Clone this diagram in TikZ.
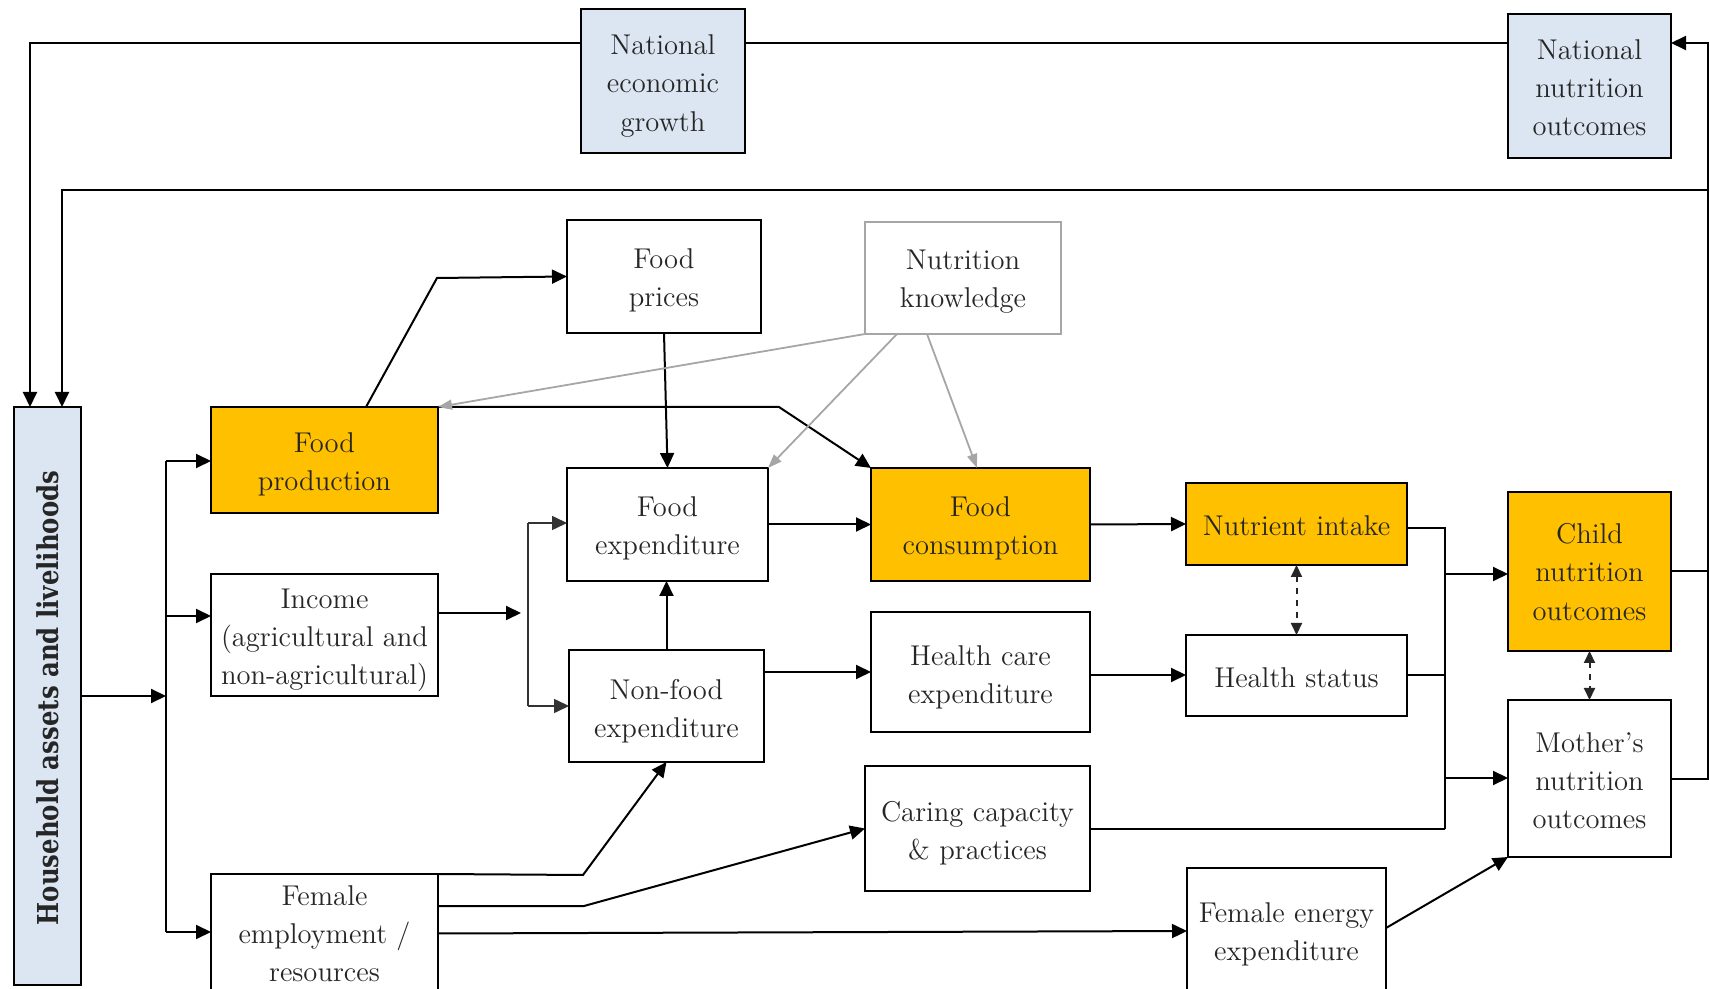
\documentclass[tikz,border=0pt]{standalone}
\usepackage{fontspec}
\newfontfamily\hhfont{DejaVu Serif}
\usetikzlibrary{arrows.meta,calc}
\definecolor{orng}{HTML}{FFC000}
\definecolor{lblue}{HTML}{DCE6F2}
\definecolor{kgrey}{HTML}{A6A6A6}
\definecolor{txt}{HTML}{262626}
\newcommand\bx[8]{%
  \node[#1, minimum width={(#4-#2)*0.5pt}, minimum height={(#5-#3)*0.5pt}] (#6) at ({(#2+#4)/2},{(#3+#5)/2}) {};
  \node[lbl] (#6t) at ({(#2+#4)/2},{(#3+#5)/2+#7}) {#8};}
\begin{document}
\begin{tikzpicture}[x=0.5pt,y=-0.5pt,
  base/.style={draw=black, line width=1.1pt, inner sep=0pt, outer sep=0pt},
  lbl/.style={inner sep=0pt, outer sep=0pt, align=center, text=txt, font=\fontsize{14.3}{19.1}\selectfont},
  wbox/.style={base, fill=white},
  obox/.style={base, fill=orng},
  bbox/.style={base, fill=lblue},
  gbox/.style={base, draw=kgrey, fill=white},
  arr/.style={line width=1pt, -{Triangle[length=7.5pt,width=7pt]}},
  ln/.style={line width=1pt},
  busln/.style={draw=black!80, line width=0.8pt},
  busarr/.style={draw=black!80, line width=0.8pt, -{Triangle[length=7.5pt,width=7pt]}},
  garr/.style={draw=kgrey, line width=0.9pt, -{Triangle[length=7pt,width=5pt]}},
  darr/.style={draw=txt, line width=1pt, dashed, {Triangle[length=6pt,width=5.5pt]}-{Triangle[length=6pt,width=5.5pt]}}
]
\useasboundingbox (0,0) rectangle (1710,989);

% nodes
\bx{bbox}{14}{407}{81}{985}{hh}{2}{\rotatebox{90}{\scalebox{1}[1.18]{\hhfont\fontsize{12.2}{15}\selectfont\bfseries Household assets and livelihoods}}}
\bx{bbox}{581}{9}{745}{153}{neg}{5}{National\\economic\\growth}
\bx{bbox}{1508}{14}{1671}{158}{nno}{2}{National\\nutrition\\outcomes}
\bx{obox}{211}{407}{438}{513}{fprod}{4.5}{Food\\production}
\bx{wbox}{567}{220}{761}{333}{fprices}{4}{Food\\prices}
\bx{gbox}{865}{222}{1061}{334}{nk}{4}{Nutrition\\knowledge}
\bx{wbox}{567}{468}{768}{581}{fexp}{4}{Food\\expenditure}
\bx{obox}{871}{468}{1090}{581}{fcons}{4}{Food\\consumption}
\bx{obox}{1186}{483}{1407}{565}{nint}{1.5}{Nutrient intake}
\bx{obox}{1508}{492}{1671}{651}{child}{0.5}{Child\\nutrition\\outcomes}
\bx{wbox}{211}{574}{438}{696}{inc}{5.5}{Income\\(agricultural and\\non-agricultural)}
\bx{wbox}{569}{650}{764}{762}{nfexp}{5}{Non-food\\expenditure}
\bx{wbox}{871}{612}{1090}{732}{hce}{5}{Health care\\expenditure}
\bx{wbox}{1186}{635}{1407}{716}{hs}{2}{Health status}
\bx{wbox}{1508}{700}{1671}{857}{mother}{2.5}{Mother's\\nutrition\\outcomes}
\bx{wbox}{865}{766}{1090}{891}{care}{5}{Caring capacity\\\& practices}
\bx{wbox}{211}{874}{438}{993}{fem}{0.5}{Female\\employment /\\resources}
\bx{wbox}{1187}{868}{1386}{994}{fee}{3}{Female energy\\expenditure}

% helper coordinates
\coordinate (t1) at (30,43);
\coordinate (rb) at (1708,43);
\coordinate (r2) at (62,190);
\coordinate (lb) at (166,461);
\coordinate (lbi) at (166,616);
\coordinate (lbf) at (166,932);
\coordinate (fpa) at (437,278);
\coordinate (fpb) at (779,407);
\coordinate (ia) at (521,613);
\coordinate (mb) at (528,523);
\coordinate (mb2) at (528,706);
\coordinate (na) at (871,672);
\coordinate (ha) at (1186,675);
\coordinate (cb1) at (1445,528);
\coordinate (cc) at (1445,574);
\coordinate (cm) at (1445,778);
\coordinate (fe1) at (583,875);
\coordinate (fe2) at (584,906);

% top feedback loops
\draw[ln] (nno.west |- t1) -- (neg.east |- t1);
\draw[arr] (neg.west |- t1) -- (t1) -- (t1 |- hh.north);
\draw[ln] (child.east) -- (child.east -| rb);
\draw[arr] (mother.east) -- (mother.east -| rb) -- (rb) -- (nno.east |- rb);
\draw[arr] (rb |- r2) -- (r2) -- (r2 |- hh.north);

% household bus
\draw[arr] (hh.east) -- (hh.east -| lb);
\draw[ln] (lb) -- (lbf);
\draw[arr] (lb) -- (lb -| fprod.west);
\draw[arr] (lbi) -- (lbi -| inc.west);
\draw[arr] (lbf) -- (lbf -| fem.west);

% food production
\draw[arr] ($(fprod.north west)+(155,0)$) -- (fpa) -- (fprices.west);
\draw[arr] (fprod.north east) -- (fpb) -- (fcons.north west);
\draw[arr] (fprices.south) -- (fexp.north);

% nutrition knowledge
\draw[garr] (nk.south west) -- (fprod.north east);
\draw[garr] ($(nk.south west)+(32,0)$) -- (fexp.north east);
\draw[garr] ($(nk.south west)+(62,0)$) -- ($(fcons.north west)+(106,0)$);

% income
\draw[arr] (ia -| inc.east) -- (ia);
\draw[busln] (mb) -- (mb2);
\draw[busarr] (mb) -- (mb -| fexp.west);
\draw[busarr] (mb2) -- (mb2 -| nfexp.west);

% expenditures
\draw[arr] (fexp.east) -- (fcons.west);
\draw[arr] (nfexp.north) -- (nfexp.north |- fexp.south);
\draw[arr] (na -| nfexp.east) -- (na);
\draw[arr] (fcons.east) -- (nint.west);
\draw[arr] (ha -| hce.east) -- (ha);
\draw[darr] (nint.south) -- (hs.north);

% outcomes bus
\draw[ln] (cb1 -| nint.east) -- (cb1) -- (cb1 |- care.east);
\draw[ln] (hs.east) -- (hs.east -| cb1);
\draw[ln] (care.east) -- (care.east -| cb1);
\draw[arr] (cc) -- (cc -| child.west);
\draw[arr] (cm) -- (cm -| mother.west);
\draw[darr] (child.south) -- (mother.north);

% female employment
\draw[arr] (fem.north east) -- (fe1) -- (nfexp.south);
\draw[arr] (fe2 -| fem.east) -- (fe2) -- (care.west);
\draw[arr] (fem.east) -- (fee.west);
\draw[arr] ($(fee.north east)+(0,60)$) -- (mother.south west);
\end{tikzpicture}
\end{document}
